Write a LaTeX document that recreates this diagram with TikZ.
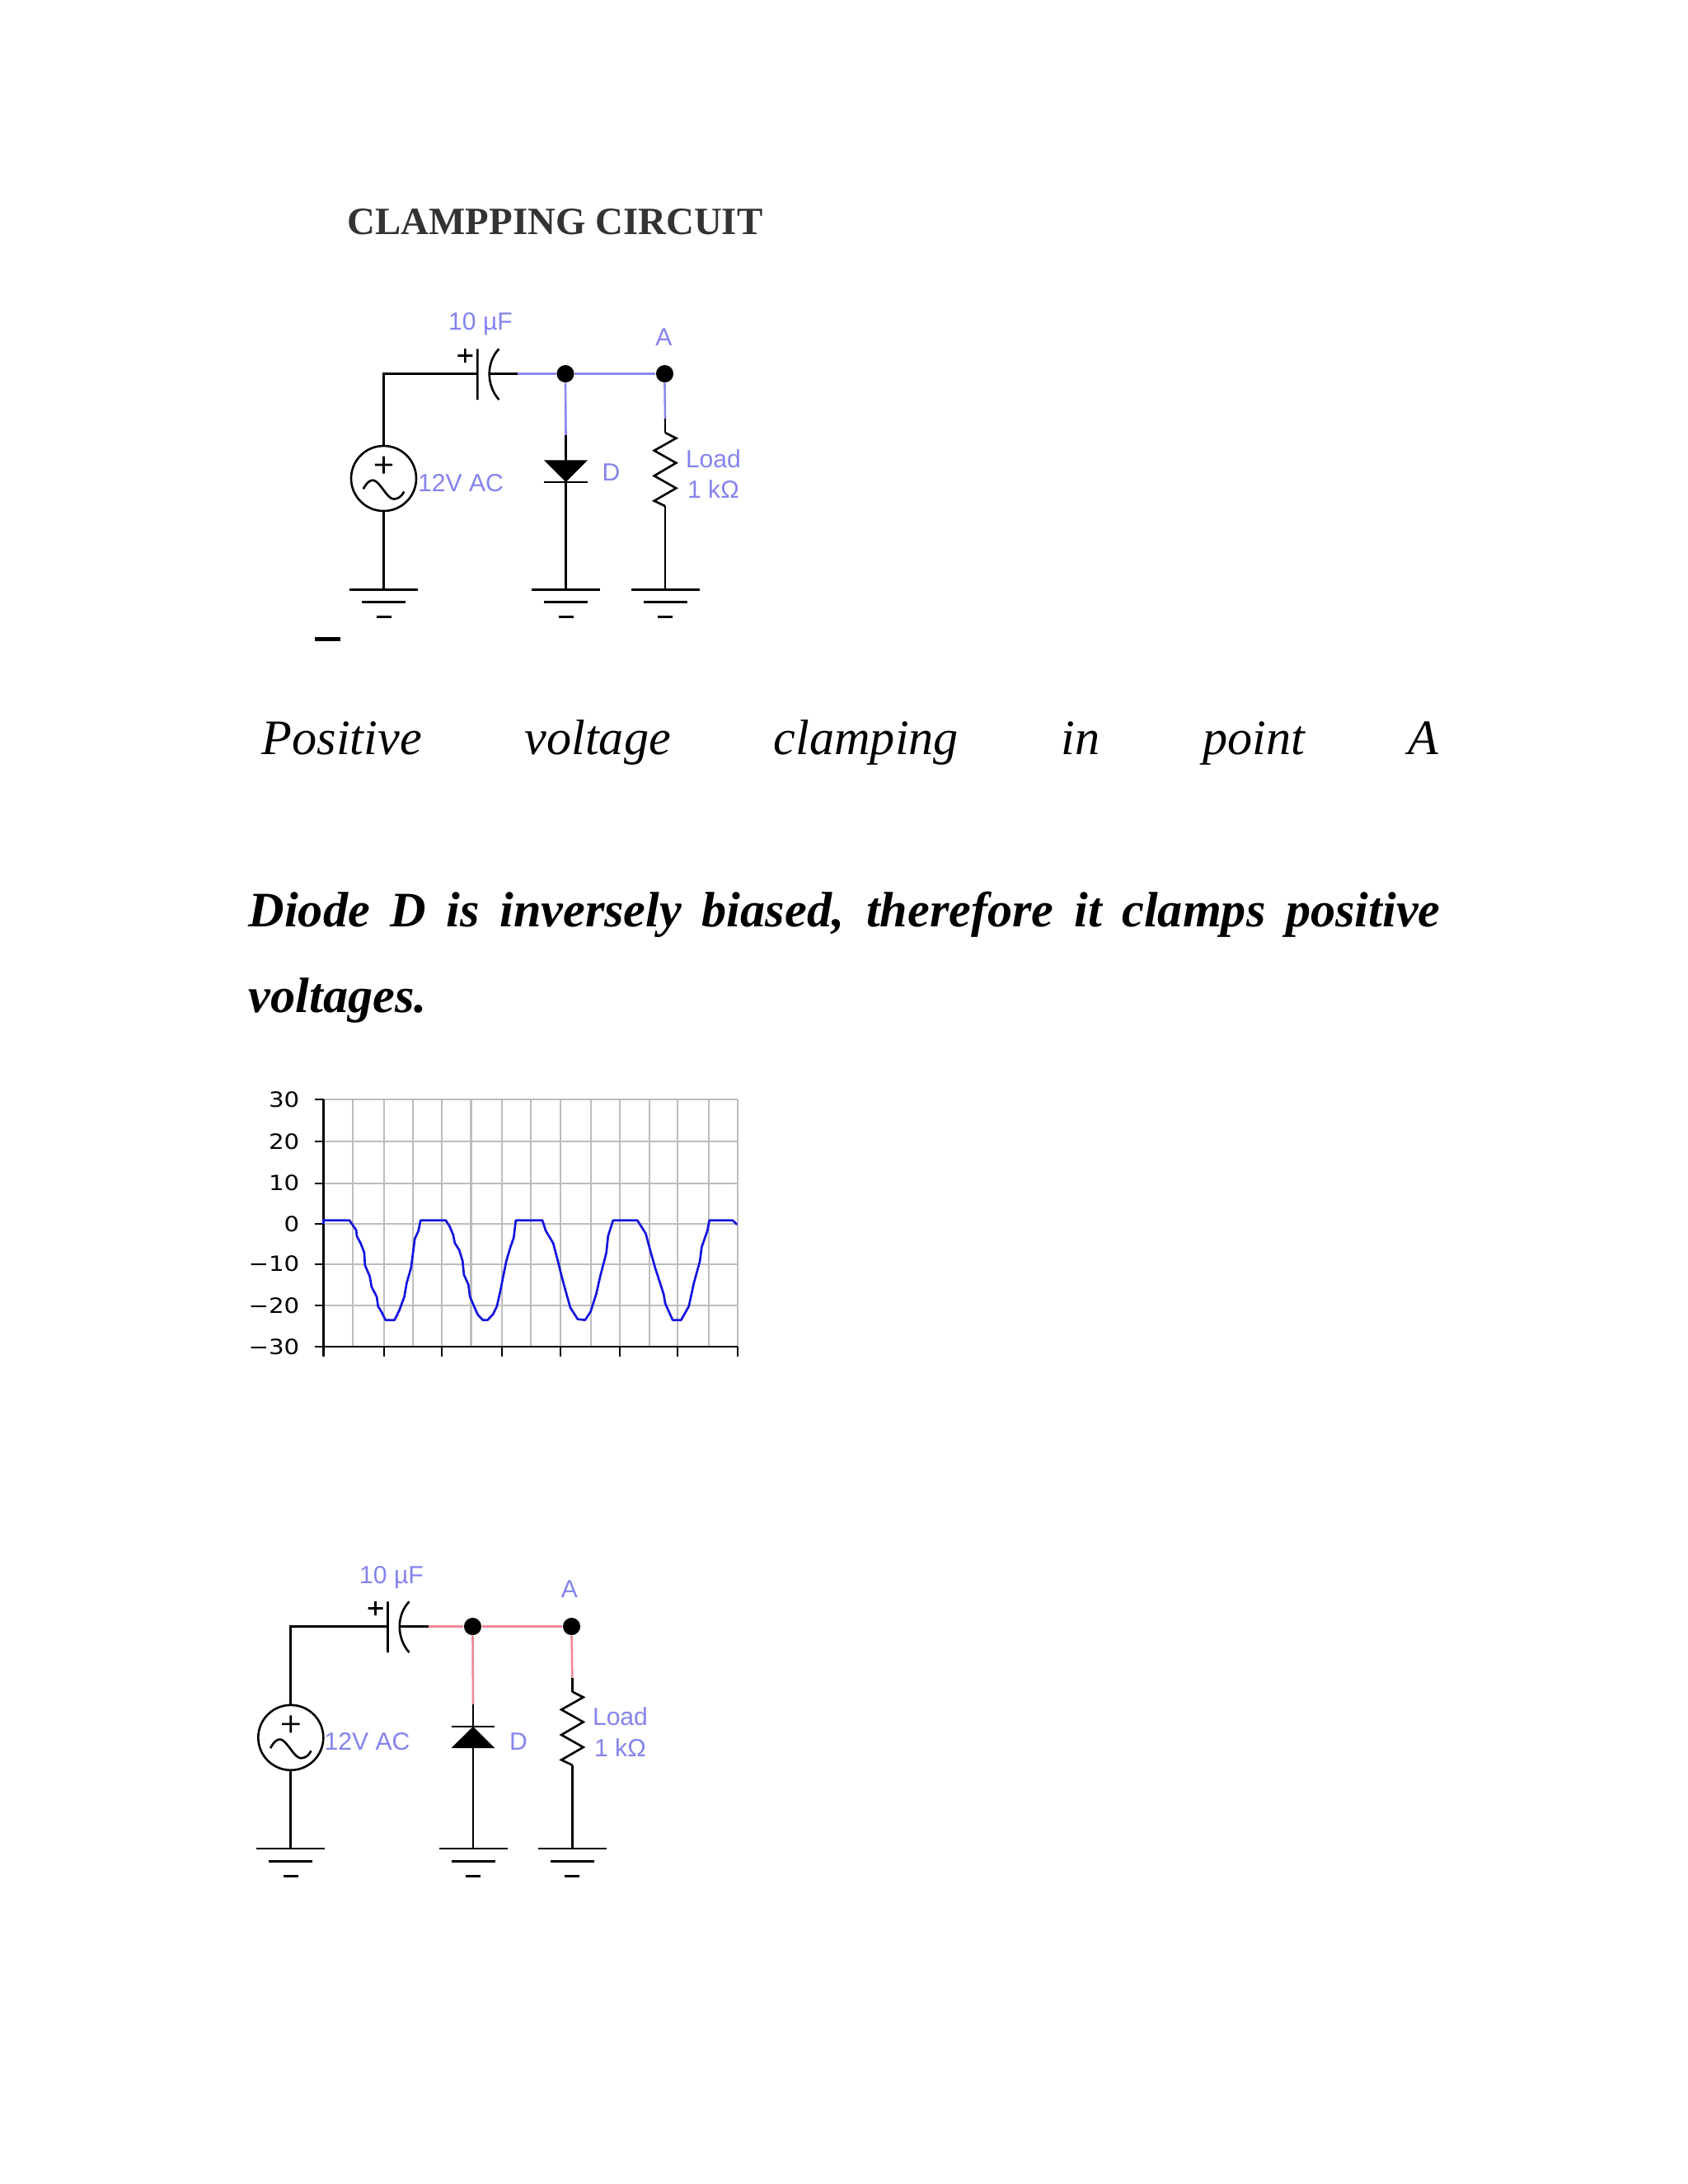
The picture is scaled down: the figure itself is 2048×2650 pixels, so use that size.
\documentclass[tikz,border=0pt]{standalone}
\usepackage{fontspec}
\setmainfont{Liberation Serif}
\newfontfamily\labfont{Liberation Sans}
\newfontfamily\axfont[FakeStretch=1.15]{DejaVu Sans}
\definecolor{labblue}{HTML}{8484EE}
\definecolor{wireblue}{HTML}{8A8AEE}
\definecolor{wirered}{HTML}{EE8A96}
\definecolor{titlegray}{HTML}{333333}
\definecolor{gridgray}{HTML}{BDBDBD}
\definecolor{traceblue}{HTML}{1414E0}
\tikzset{
  wire/.style={line width=0.78pt,line cap=butt,line join=miter},
  lab/.style={text=labblue,font=\labfont\fontsize{9}{10}\selectfont,inner sep=0pt},
  junct/.style={circle,fill=black,draw=none,minimum size=6.3pt,inner sep=0pt},
  acsrc/.style={circle,draw=black,line width=0.78pt,minimum size=23.6pt,inner sep=0pt},
  axlab/.style={font=\axfont\fontsize{7.6}{9}\selectfont,anchor=east,inner sep=0pt},
}
\newcommand{\gndsym}[1]{\draw[wire,shift={#1}] (-41.5,0)--(41.5,0) (-26.5,15.4)--(26.5,15.4);
  \draw[line width=0.9pt,shift={#1}] (-9,33)--(9,33);}
\newcommand{\acsym}[1]{\draw[wire,shift={#1}] (-10.7,-16.5)--(10.7,-16.5) (0,-27)--(0,-6)
  (-24.7,12.8) .. controls (-20,4) and (-16,2) .. (-12.9,2.2) .. controls (-5,2.5) and (4,25) .. (12.2,25) .. controls (17,25) and (22,22) .. (24.7,16);}
\newcommand{\zigzag}[1]{\draw[wire,shift={#1}] (0,0)--(13.3,6.7)--(-13.3,21.7)--(13.3,36.7)--(-13.3,52.3)--(13.3,67.3)--(-13.3,82.7)--(0,89);}
\newcommand{\capsym}[1]{\draw[wire,shift={#1}] (0,-30.2)--(0,31.5) (-24,-22)--(-6,-22) (-15,-30.5)--(-15,-13.5)
  (26,-30.2) .. controls (10.4,-14) and (10.4,14) .. (26,31.5);}
\begin{document}
\begin{tikzpicture}[x=0.2988pt,y=-0.2988pt]
\useasboundingbox (0,0) rectangle (2048,2650);
\fill[white] (0,0) rectangle (2048,2650);

% title and text
\node[anchor=base west,inner sep=0pt,text=titlegray,font=\fontsize{14}{16}\bfseries\selectfont] (title) at (421,284.7) {CLAMPPING CIRCUIT};
\node[anchor=base west,inner sep=0pt,font=\fontsize{18}{20}\itshape\selectfont] (line1) at (317,915) {\makebox[426.5pt][s]{Positive\hfill voltage\hfill clamping\hfill in\hfill point\hfill A}};
\node[anchor=base west,inner sep=0pt,font=\fontsize{18}{20}\bfseries\itshape\selectfont] (line2) at (301,1124) {\makebox[432pt][s]{Diode D is inversely biased, therefore it clamps positive}};
\node[anchor=base west,inner sep=0pt,font=\fontsize{18}{20}\bfseries\itshape\selectfont] (line3) at (301,1228) {voltages.};

% circuit 1
\coordinate (a1c) at (465.5,453.5);
\node[junct] (a1j) at (686,453.5) {};
\node[junct] (a1a) at (806.5,453.5) {};
\coordinate (a1capl) at (579.4,453.5);
\coordinate (a1capr) at (593.7,453.5);
\coordinate (a1capw) at (628,453.5);
\node[acsrc] (a1src) at (465.5,580.5) {};
\coordinate (a1g1) at (465.5,715.3);
\coordinate (a1g2) at (686.5,715.3);
\coordinate (a1g3) at (807,715.3);
\coordinate (a1dt) at (686.5,528.3);
\coordinate (a1dk) at (686.5,585);
\coordinate (a1rb) at (807,508.3);
\coordinate (a1rt) at (807,525);
\coordinate (a1re) at (807,614);
\draw[wire] (a1src.north) -- (a1c) -- (a1capl);
\draw[wire] (a1src.south) -- (a1g1);
\draw[wire] (a1capr) -- (a1capw);
\draw[wire,wireblue] (a1capw) -- (a1j);
\draw[wire,wireblue] (a1j) -- (a1a);
\draw[wire,wireblue] (a1j.south) -- (a1dt);
\draw[wire,wireblue] (a1a.south) -- (a1rb);
\draw[wire] (a1dt) -- (a1g2);
\draw[wire] (a1rb) -- (a1rt);
\draw[wire] (a1re) -- (a1g3);
\fill (660,558.3) -- (713,558.3) -- (a1dk) -- cycle;
\draw[wire] (660,585) -- (713,585);
\capsym{(579.4,453.5)}
\acsym{(465.5,580.5)}
\zigzag{(807,525)}
\gndsym{(a1g1)}
\gndsym{(a1g2)}
\gndsym{(a1g3)}
\node[lab] (a1l1) at (583,393) {10 µF};
\node[lab] (a1l2) at (805.5,409.5) {A};
\node[lab] (a1l3) at (559,586) {12V AC};
\node[lab] (a1l4) at (741.5,573) {D};
\node[lab] (a1l5) at (865.5,557) {Load};
\node[lab] (a1l6) at (865.5,594) {1 kΩ};
\draw[line width=1.5pt] (381.5,775) -- (412.7,775);

% chart
\begin{scope}[shift={(280.2,1290)},xscale=0.4085,yscale=0.33333]
\draw[gridgray,line width=0.66pt] (362,133)--(362,1033) (454,133)--(454,1033) (540,133)--(540,1033) (627,133)--(627,1033) (713,133)--(713,1033) (804,133)--(804,1033) (890,133)--(890,1033) (978,133)--(978,1033) (1069,133)--(1069,1033) (1154,133)--(1154,1033) (1243,133)--(1243,1033) (1327,133)--(1327,1033) (1420,133)--(1420,1033) (1505,133)--(1505,1033);
\draw[gridgray,line width=0.66pt] (275,133)--(1505,133) (275,286)--(1505,286) (275,437)--(1505,437) (275,586)--(1505,586) (275,731)--(1505,731) (275,882)--(1505,882);
\draw[line width=0.66pt] (275,133)--(275,1067) (275,1033)--(1505,1033);
\draw[line width=0.66pt] (248,133)--(275,133) (248,286)--(275,286) (248,437)--(275,437) (248,586)--(275,586) (248,731)--(275,731) (248,882)--(275,882) (248,1033)--(275,1033);
\draw[line width=0.66pt] (454,1033)--(454,1067) (627,1033)--(627,1067) (804,1033)--(804,1067) (978,1033)--(978,1067) (1154,1033)--(1154,1067) (1327,1033)--(1327,1067) (1505,1033)--(1505,1067);
\draw[traceblue,line width=0.8pt,line join=round] (275,586)--(275,572)--(352,572)--(362,590)--(372,608)--(374,630)--(385,655)--(396,690)--(398,735)--(412,775)--(418,815)--(433,850)--(437,885)--(447,905)--(459,935)--(486,935)--(500,900)--(515,850)--(522,800)--(535,745)--(546,640)--(557,610)--(563,572)--(638,572)--(650,595)--(660,625)--(665,655)--(678,680)--(688,720)--(692,770)--(705,805)--(710,850)--(722,885)--(733,915)--(748,935)--(762,935)--(778,915)--(790,885)--(800,830)--(808,780)--(818,720)--(830,670)--(840,635)--(846,572)--(925,572)--(935,610)--(957,655)--(970,715)--(982,775)--(992,820)--(1008,890)--(1030,932)--(1052,935)--(1068,905)--(1085,840)--(1097,775)--(1115,690)--(1120,630)--(1135,572)--(1207,572)--(1232,620)--(1245,680)--(1260,745)--(1285,840)--(1290,875)--(1312,935)--(1337,935)--(1360,885)--(1375,800)--(1393,720)--(1398,670)--(1415,610)--(1421,572)--(1490,572)--(1503,588);
\node[axlab] (y30) at (205,133) {30};
\node[axlab] (y20) at (205,286) {20};
\node[axlab] (y10) at (205,437) {10};
\node[axlab] (y0) at (205,586) {0};
\node[axlab] (ym10) at (205,731) {−10};
\node[axlab] (ym20) at (205,882) {−20};
\node[axlab] (ym30) at (205,1033) {−30};
\end{scope}

% circuit 2
\coordinate (b1c) at (352.8,1973.5);
\node[junct] (b1j) at (573.5,1973.5) {};
\node[junct] (b1a) at (693.5,1973.5) {};
\coordinate (b1capl) at (470.5,1973.5);
\coordinate (b1capr) at (484.9,1973.5);
\coordinate (b1capw) at (519.5,1973.5);
\node[acsrc] (b1src) at (352.8,2108.3) {};
\coordinate (b1g1) at (352.8,2243);
\coordinate (b1g2) at (574,2243);
\coordinate (b1g3) at (694.4,2243);
\coordinate (b1dt) at (574,2068.3);
\coordinate (b1dk) at (574,2095);
\coordinate (b1rb) at (694.4,2035.7);
\coordinate (b1rt) at (694.4,2052.7);
\coordinate (b1re) at (694.4,2141.7);
\draw[wire] (b1src.north) -- (b1c) -- (b1capl);
\draw[wire] (b1src.south) -- (b1g1);
\draw[wire] (b1capr) -- (b1capw);
\draw[wire,wirered] (b1capw) -- (b1j);
\draw[wire,wirered] (b1j) -- (b1a);
\draw[wire,wirered] (b1j.south) -- (b1dt);
\draw[wire,wirered] (b1a.south) -- (b1rb);
\draw[wire] (b1dt) -- (b1g2);
\draw[wire] (b1rb) -- (b1rt);
\draw[wire] (b1re) -- (b1g3);
\fill (547.5,2121) -- (600.3,2121) -- (b1dk) -- cycle;
\draw[wire] (547.5,2095) -- (600.3,2095);
\capsym{(470.5,1973.5)}
\acsym{(352.8,2108.3)}
\zigzag{(694.4,2052.7)}
\gndsym{(b1g1)}
\gndsym{(b1g2)}
\gndsym{(b1g3)}
\node[lab] (b1l1) at (475,1914.5) {10 µF};
\node[lab] (b1l2) at (691,1928) {A};
\node[lab] (b1l3) at (445.5,2113) {12V AC};
\node[lab] (b1l4) at (629,2113) {D};
\node[lab] (b1l5) at (752.5,2083) {Load};
\node[lab] (b1l6) at (752.5,2121) {1 kΩ};
\end{tikzpicture}
\end{document}
